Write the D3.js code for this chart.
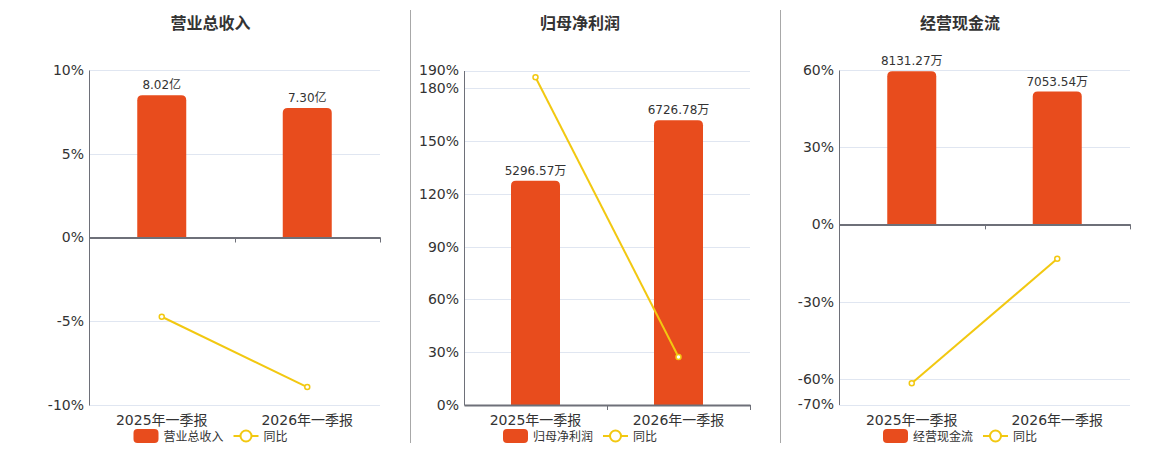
<!DOCTYPE html>
<html><head><meta charset="utf-8">
<script src="https://cdn.jsdelivr.net/npm/d3@7"></script>
<style>
body{margin:0;background:#fff;}
svg{display:block;font-family:"DejaVu Sans","Noto Sans CJK SC",sans-serif;}
</style></head>
<body>
<svg id="c" width="1160" height="450"></svg>
<script>
const categories = ["2025年一季报", "2026年一季报"];
const titles = ["营业总收入", "归母净利润", "经营现金流"];
const revenue = [8.02, 7.30];
const profit = [5296.57, 6726.78];
const cashflow = [8131.27, 7053.54];
const units = ["亿", "万", "万"];
const revenueYoy = [-4.73, -8.93];
const profitYoy = [186.2, 27.3];
const cashflowYoy = [-61.7, -13.4];
const pctTicks1 = [-10, -5, 0, 5, 10];
const pctTicks2 = [0, 30, 60, 90, 120, 150, 180, 190];
const pctTicks3 = [-70, -60, -30, 0, 30, 60];
const barAxisMax = [9.45, 7900, 8200];
const yoyLabel = "同比";

const panels = [
  {title: titles[0], bars: revenue, yoy: revenueYoy, ticks: pctTicks1, unit: units[0], barMax: barAxisMax[0],
   left: 89, right: 380, top: 70, bottom: 405, cx: 210.5},
  {title: titles[1], bars: profit, yoy: profitYoy, ticks: pctTicks2, unit: units[1], barMax: barAxisMax[1],
   left: 464, right: 750, top: 70.5, bottom: 405, cx: 580},
  {title: titles[2], bars: cashflow, yoy: cashflowYoy, ticks: pctTicks3, unit: units[2], barMax: barAxisMax[2],
   left: 839, right: 1130, top: 70, bottom: 404.5, cx: 960}
];

const BAR = "#e84c1d", LINE = "#f2c811", AXIS = "#6e7079", GRID = "#e0e6f1", TXT = "#333";
const svg = d3.select("#c");

// separators
[410.5, 780.5].forEach(x => svg.append("line").attr("x1", x).attr("x2", x).attr("y1", 10).attr("y2", 443)
  .attr("stroke", "#a8a8a8").attr("stroke-width", 1));

panels.forEach(p => {
  const g = svg.append("g");
  const ext = d3.extent(p.ticks);
  const y = d3.scaleLinear().domain(ext).range([p.bottom, p.top]);
  const x = d3.scaleBand().domain(categories).range([p.left, p.right]);
  const zeroY = y(0);
  // bar axis shares zero with percent axis
  const yb = d3.scaleLinear().domain([0, p.barMax]).range([zeroY, p.top]);

  g.append("text").attr("x", p.cx).attr("y", 29).attr("text-anchor", "middle")
    .attr("font-size", 16).attr("font-weight", "bold").attr("fill", TXT).text(p.title);

  // grid
  g.selectAll(".grid").data(p.ticks.filter(t => t !== 0)).join("line")
    .attr("x1", p.left).attr("x2", p.right).attr("y1", d => Math.round(y(d)) + 0.5).attr("y2", d => Math.round(y(d)) + 0.5)
    .attr("stroke", GRID).attr("stroke-width", 1);

  // y axis
  const ya = d3.axisLeft(y).tickValues(p.ticks).tickFormat(d => d + "%").tickSize(0).tickPadding(5);
  const yg = g.append("g").attr("transform", `translate(${p.left},0)`).call(ya)
    .attr("font-family", null).attr("font-size", 14);
  yg.select(".domain").attr("stroke", AXIS);
  yg.selectAll("text").attr("fill", TXT);

  // bars
  const bw = 49;
  g.selectAll(".bar").data(p.bars).join("path")
    .attr("d", (d, i) => {
      const x0 = x(categories[i]) + x.bandwidth() / 2 - bw / 2, x1 = x0 + bw;
      const yt = yb(d), r = 5;
      return `M${x0},${zeroY}V${yt + r}Q${x0},${yt} ${x0 + r},${yt}H${x1 - r}Q${x1},${yt} ${x1},${yt + r}V${zeroY}Z`;
    })
    .attr("fill", BAR);

  g.selectAll(".blab").data(p.bars).join("text")
    .attr("x", (d, i) => x(categories[i]) + x.bandwidth() / 2)
    .attr("y", d => yb(d) - 6).attr("text-anchor", "middle").attr("font-size", 12).attr("fill", TXT)
    .text(d => d.toFixed(2) + p.unit);

  // x axis at zero
  const xa = d3.axisBottom(x).tickSize(0).tickFormat("");
  const xg = g.append("g").attr("transform", `translate(0,${zeroY})`).call(xa);
  xg.select(".domain").attr("stroke", AXIS).attr("stroke-width", 2);
  [x(categories[1]), p.right].forEach(tx => g.append("line").attr("x1", Math.round(tx) + 0.5).attr("x2", Math.round(tx) + 0.5)
    .attr("y1", zeroY).attr("y2", zeroY + 5).attr("stroke", AXIS));

  // category labels at bottom
  g.selectAll(".cl").data(categories).join("text")
    .attr("x", d => x(d) + x.bandwidth() / 2).attr("y", p.bottom + 20).attr("text-anchor", "middle")
    .attr("font-size", 14).attr("fill", TXT).text(d => d);

  // yoy line
  const line = d3.line().x((d, i) => x(categories[i]) + x.bandwidth() / 2).y(d => y(d));
  g.append("path").datum(p.yoy).attr("d", line).attr("fill", "none").attr("stroke", LINE).attr("stroke-width", 2);
  g.selectAll(".pt").data(p.yoy).join("circle")
    .attr("cx", (d, i) => x(categories[i]) + x.bandwidth() / 2).attr("cy", d => y(d)).attr("r", 2.5)
    .attr("fill", "#fff").attr("stroke", LINE).attr("stroke-width", 1.5);

  // legend
  const lx = p.cx - 77, ly = 436;
  g.append("rect").attr("x", lx).attr("y", ly - 7).attr("width", 25).attr("height", 14).attr("rx", 4).attr("fill", BAR);
  g.append("text").attr("x", lx + 30).attr("y", ly + 4.5).attr("font-size", 12).attr("fill", TXT).text(p.title);
  const l2 = lx + 100;
  g.append("line").attr("x1", l2).attr("x2", l2 + 25).attr("y1", ly).attr("y2", ly).attr("stroke", LINE).attr("stroke-width", 2);
  g.append("circle").attr("cx", l2 + 12.5).attr("cy", ly).attr("r", 5.5).attr("fill", "#fff").attr("stroke", LINE).attr("stroke-width", 2);
  g.append("text").attr("x", l2 + 30).attr("y", ly + 4.5).attr("font-size", 12).attr("fill", TXT).text(yoyLabel);
});
</script>
</body></html>
